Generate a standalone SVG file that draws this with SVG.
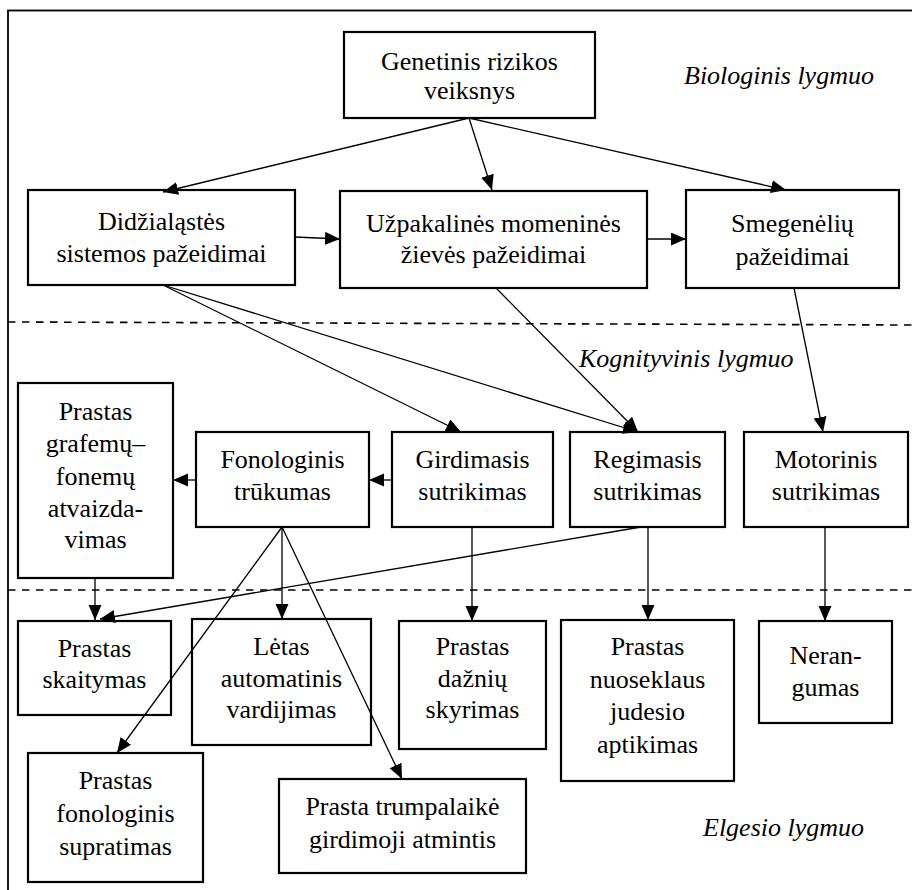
<svg xmlns="http://www.w3.org/2000/svg" width="912" height="890" viewBox="0 0 912 890">
<style>
.box{fill:none;stroke:#000;stroke-width:2.2}
.t{font-family:"Liberation Serif",Tinos,"Times New Roman",Times,"Noto Serif","DejaVu Serif","Nimbus Roman","FreeSerif",serif;font-size:26px;text-anchor:middle;fill:#000}
.lbl{font-family:"Liberation Serif",Tinos,"Times New Roman",Times,"Noto Serif","DejaVu Serif","Nimbus Roman","FreeSerif",serif;font-size:26px;font-style:italic;fill:#000}
.c{stroke:#000;stroke-width:1.3;fill:none;marker-end:url(#ah)}
.d{stroke:#000;stroke-width:1.6;stroke-dasharray:7.5 6.5;fill:none}
</style>
<defs>
<marker id="ah" markerUnits="userSpaceOnUse" markerWidth="16" markerHeight="14" refX="15" refY="6.5" orient="auto">
<path d="M0,0 L15,6.5 L0,13 Z" fill="#000"/>
</marker>
</defs>
<rect width="912" height="890" fill="#fff"/>
<rect x="8" y="10.5" width="930" height="900" fill="none" stroke="#000" stroke-width="1.8"/>
<g id="levels">
<line class="d" x1="8" y1="322" x2="912" y2="325"/>
<line class="d" x1="8" y1="590" x2="912" y2="590"/>
<text class="lbl" x="684" y="84">Biologinis lygmuo</text>
<text class="lbl" x="579" y="367">Kognityvinis lygmuo</text>
<text class="lbl" x="703" y="836">Elgesio lygmuo</text>
</g>
<g id="genetinis"><rect class="box" x="344" y="32" width="251" height="86"/><text class="t" x="469.5" y="70">Genetinis rizikos</text><text class="t" x="469.5" y="99">veiksnys</text></g>
<g id="didzialastes"><rect class="box" x="28" y="190" width="267" height="95"/><text class="t" x="161.5" y="230">Didžialąstės</text><text class="t" x="161.5" y="262">sistemos pažeidimai</text></g>
<g id="uzpakalines"><rect class="box" x="340" y="191" width="307" height="97"/><text class="t" x="493.5" y="232">Užpakalinės momeninės</text><text class="t" x="493.5" y="263">žievės pažeidimai</text></g>
<g id="smegeneliu"><rect class="box" x="686" y="190" width="213" height="98"/><text class="t" x="792.5" y="232">Smegenėlių</text><text class="t" x="792.5" y="265">pažeidimai</text></g>
<g id="grafemu"><rect class="box" x="18" y="383" width="155" height="195"/><text class="t" x="95.5" y="420">Prastas</text><text class="t" x="95.5" y="452">grafemų–</text><text class="t" x="95.5" y="485">fonemų</text><text class="t" x="95.5" y="517">atvaizda-</text><text class="t" x="95.5" y="548">vimas</text></g>
<g id="fonologinis"><rect class="box" x="196" y="432" width="173" height="95"/><text class="t" x="282.5" y="468">Fonologinis</text><text class="t" x="282.5" y="500">trūkumas</text></g>
<g id="girdimasis"><rect class="box" x="392" y="432" width="161" height="95"/><text class="t" x="472.5" y="468">Girdimasis</text><text class="t" x="472.5" y="500">sutrikimas</text></g>
<g id="regimasis"><rect class="box" x="570" y="432" width="155" height="95"/><text class="t" x="647.5" y="468">Regimasis</text><text class="t" x="647.5" y="500">sutrikimas</text></g>
<g id="motorinis"><rect class="box" x="744" y="432" width="164" height="95"/><text class="t" x="826" y="468">Motorinis</text><text class="t" x="826" y="500">sutrikimas</text></g>
<g id="skaitymas"><rect class="box" x="18" y="621" width="153" height="94"/><text class="t" x="94.5" y="657">Prastas</text><text class="t" x="94.5" y="688">skaitymas</text></g>
<g id="letas"><rect class="box" x="192" y="619" width="179" height="126"/><text class="t" x="281.5" y="655">Lėtas</text><text class="t" x="281.5" y="687">automatinis</text><text class="t" x="281.5" y="718">vardijimas</text></g>
<g id="dazniu"><rect class="box" x="399" y="621" width="147" height="128"/><text class="t" x="472.5" y="655">Prastas</text><text class="t" x="472.5" y="687">dažnių</text><text class="t" x="472.5" y="718">skyrimas</text></g>
<g id="nuoseklaus"><rect class="box" x="561" y="620" width="173" height="161"/><text class="t" x="647.5" y="655">Prastas</text><text class="t" x="647.5" y="688">nuoseklaus</text><text class="t" x="647.5" y="720">judesio</text><text class="t" x="647.5" y="753">aptikimas</text></g>
<g id="nerangumas"><rect class="box" x="759" y="621" width="133" height="102"/><text class="t" x="825.5" y="664">Neran-</text><text class="t" x="825.5" y="696">gumas</text></g>
<g id="fonologinis-supratimas"><rect class="box" x="28" y="753" width="175" height="129"/><text class="t" x="115.5" y="789">Prastas</text><text class="t" x="115.5" y="822">fonologinis</text><text class="t" x="115.5" y="855">supratimas</text></g>
<g id="trumpalaike"><rect class="box" x="279" y="779" width="247" height="94"/><text class="t" x="402.5" y="815">Prasta trumpalaikė</text><text class="t" x="402.5" y="848">girdimoji atmintis</text></g>
<g id="connectors">
<line class="c" x1="469" y1="118" x2="163" y2="192"/>
<line class="c" x1="469" y1="118" x2="492" y2="190"/>
<line class="c" x1="469" y1="118" x2="786" y2="190"/>
<line class="c" x1="295" y1="237" x2="340" y2="239"/>
<line class="c" x1="647" y1="239" x2="686" y2="239"/>
<line class="c" x1="163" y1="285" x2="461" y2="432"/>
<line class="c" x1="163" y1="285" x2="638" y2="432"/>
<line class="c" x1="496" y1="288" x2="638" y2="432"/>
<line class="c" x1="794" y1="288" x2="823" y2="432"/>
<line class="c" x1="196" y1="480" x2="173" y2="480"/>
<line class="c" x1="392" y1="480" x2="369" y2="480"/>
<line class="c" x1="95" y1="578" x2="95" y2="620"/>
<line class="c" x1="641" y1="527" x2="100" y2="619"/>
<line class="c" x1="282" y1="527" x2="282" y2="619"/>
<line class="c" x1="282" y1="527" x2="117" y2="753"/>
<line class="c" x1="282" y1="527" x2="402" y2="779"/>
<line class="c" x1="472" y1="527" x2="472" y2="621"/>
<line class="c" x1="648" y1="527" x2="648" y2="620"/>
<line class="c" x1="825" y1="527" x2="825" y2="621"/>
</g>
</svg>
